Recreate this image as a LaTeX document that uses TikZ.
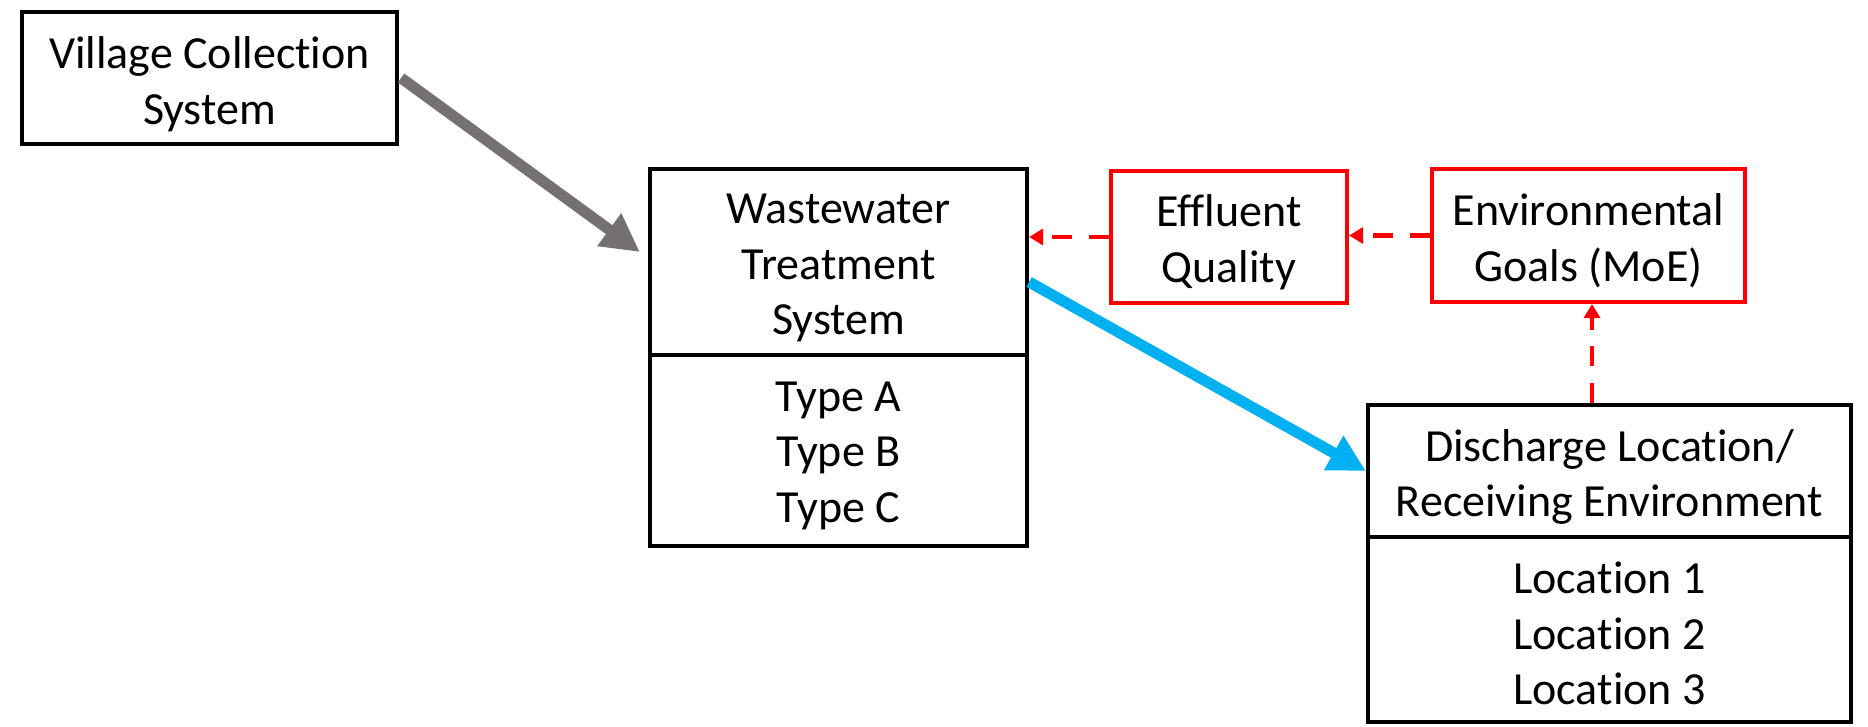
\documentclass[tikz,border=0pt]{standalone}
\usepackage{fontspec}
\setmainfont{Carlito}[Ligatures={NoCommon}]
\usetikzlibrary{arrows.meta,calc}
\definecolor{arrgray}{RGB}{118,113,113}
\definecolor{arrblue}{RGB}{0,176,240}
\definecolor{boxred}{RGB}{255,0,0}
\tikzset{
  boxbase/.style={rectangle, inner sep=0pt},
  blackbox/.style={boxbase, draw=black, line width=4.2pt},
  redbox/.style={boxbase, draw=boxred, line width=4.2pt},
  boxtext/.style={inner sep=0pt, align=center, text=black,
    font=\fontsize{46}{55.5}\selectfont},
  flowgray/.style={draw=arrgray, line width=11pt, -{Triangle[length=38pt,width=38pt]}, arrgray},
  flowblue/.style={draw=arrblue, line width=11pt, -{Triangle[length=37pt,width=37pt]}, arrblue},
  reddash/.style={draw=boxred, line width=4.5pt, dash pattern=on 20pt off 16.5pt,
    -{Triangle[length=14pt,width=16pt]}, boxred},
}
\begin{document}
\begin{tikzpicture}[x=1pt,y=-1pt]
\useasboundingbox (0,0) rectangle (1868,726);
% boxes
\node[blackbox, minimum width=375pt, minimum height=132pt] (vil) at (209.5,78) {};
\node[blackbox, minimum width=377pt, minimum height=186pt] (wtsTop) at (838.5,262) {};
\node[blackbox, minimum width=377pt, minimum height=191pt] (wtsBot) at (838.5,450.5) {};
\node[redbox, minimum width=236pt, minimum height=132pt] (eff) at (1229,237) {};
\node[redbox, minimum width=313pt, minimum height=133pt] (env) at (1588.5,235.5) {};
\node[blackbox, minimum width=483pt, minimum height=132pt] (disTop) at (1609.5,471) {};
\node[blackbox, minimum width=483pt, minimum height=185pt] (disBot) at (1609.5,629.5) {};
% texts
\node[boxtext] (vilT) at ($(vil.center)+(0,6)$) {Village Collection\\System};
\node[boxtext] (wtsTopT) at ($(wtsTop.center)+(0,6)$) {Wastewater\\Treatment\\System};
\node[boxtext] (wtsBotT) at ($(wtsBot.center)+(0,5)$) {Type A\\Type B\\Type C};
\node[boxtext] (effT) at ($(eff.center)+(0,5)$) {Effluent\\Quality};
\node[boxtext] (envT) at ($(env.center)+(0,5)$) {Environmental\\Goals (MoE)};
\node[boxtext] (disTopT) at ($(disTop.center)+(0,6)$) {Discharge Location/\\Receiving Environment};
\node[boxtext] (disBotT) at ($(disBot.center)+(0,4)$) {Location 1\\Location 2\\Location 3};
% connectors
\draw[flowgray] ($(vil.east)+(2,0)$) -- ($(wtsTop.west)+(-8,-10)$);
\draw[flowblue] ($(wtsTop.east)+(0,20)$) -- (disTop.west);
\draw[reddash] (eff.west) -- (eff.west -| wtsTop.east);
\draw[reddash] (env.west) -- (env.west -| eff.east);
\draw[reddash] ($(disTop.north)+(-17.5,0)$) -- ($(env.south)+(3.5,0)$);
\end{tikzpicture}
\end{document}
